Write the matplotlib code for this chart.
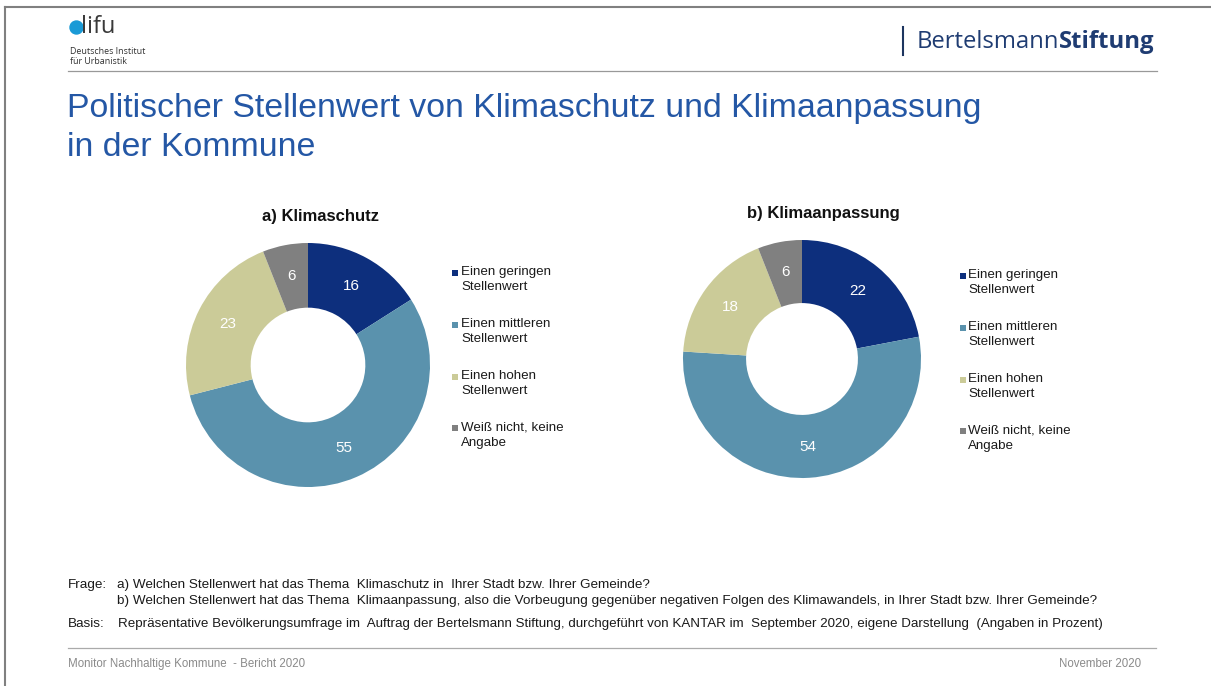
import matplotlib
matplotlib.use("Agg")
import matplotlib.pyplot as plt
from matplotlib.patches import Rectangle, Ellipse
from matplotlib.lines import Line2D

plt.rcParams['font.family'] = ['Liberation Sans', 'DejaVu Sans']

# ---- data ----
categories = ["Einen geringen\nStellenwert", "Einen mittleren\nStellenwert",
              "Einen hohen\nStellenwert", "Weiß nicht, keine\nAngabe"]
klimaschutz = [16, 55, 23, 6]
klimaanpassung = [22, 54, 18, 6]
colors = ["#0d2f7d", "#5a92ad", "#cbcb98", "#808080"]
chart_titles = ["a) Klimaschutz", "b) Klimaanpassung"]

W, H = 1211, 686
fig = plt.figure(figsize=(W / 100, H / 100), dpi=100)
fig.patch.set_facecolor("white")


def fx(x):
    return x / W


def fy(y):
    return 1 - y / H


# frame (left + top)
fig.add_artist(Line2D([fx(5), fx(5)], [fy(7), fy(686)], color="#808080", lw=1.5))
fig.add_artist(Line2D([fx(5), fx(1211)], [fy(7), fy(7)], color="#808080", lw=1.5))

# header: difu logo
fig.add_artist(Ellipse((fx(76.5), fy(27.5)), 13 / W, 13 / H, transform=fig.transFigure,
                       color="#1a9ad6", zorder=3))
fig.text(fx(81), fy(33), "lifu", fontsize=17, color="#3a3a3a", va="baseline",
         ha="left", family=["Open Sans", "DejaVu Sans"])
fig.text(fx(70), fy(52), "Deutsches Institut", fontsize=6.4, color="#333333", va="center",
         family=["Open Sans", "DejaVu Sans"])
fig.text(fx(70), fy(61), "für Urbanistik", fontsize=6.4, color="#333333", va="center",
         family=["Open Sans", "DejaVu Sans"])
fig.add_artist(Line2D([fx(68), fx(1157)], [fy(71), fy(71)], color="#999999", lw=0.9))

# header: Bertelsmann Stiftung
fig.add_artist(Line2D([fx(903), fx(903)], [fy(27), fy(55)], color="#1d355f", lw=1.5))
t1 = fig.text(fx(917), fy(42), "Bertelsmann", fontsize=17.2, color="#1f3c72",
              va="center", ha="left", family=["Open Sans", "DejaVu Sans"])
fig.canvas.draw()
bb = t1.get_window_extent()
fig.text(bb.x1 / W - 1 / W, fy(42), "Stiftung", fontsize=17.2, color="#1f3c72",
         va="center", ha="left", fontweight="bold", family=["Open Sans", "DejaVu Sans"])

# title
fig.text(fx(67), fy(108), "Politischer Stellenwert von Klimaschutz und Klimaanpassung",
         fontsize=24.4, color="#2457a5", va="center", ha="left")
fig.text(fx(67), fy(148), "in der Kommune", fontsize=24.4, color="#2457a5",
         va="center", ha="left")

# donuts
specs = [
    dict(vals=klimaschutz, cx=308, cy=365, r=122, tx=320, ty=216, lx=452, lx_t=461, ly=273),
    dict(vals=klimaanpassung, cx=802, cy=359, r=119, tx=823, ty=213, lx=960, lx_t=968, ly=276),
]
for spec, title in zip(specs, chart_titles):
    cx, cy, r = spec["cx"], spec["cy"], spec["r"]
    ax = fig.add_axes([fx(cx - r), fy(cy + r), 2 * r / W, 2 * r / H])
    wedges, texts = ax.pie(spec["vals"], colors=colors, startangle=90, counterclock=False,
                           radius=1.0, labels=[str(v) for v in spec["vals"]],
                           labeldistance=0.74,
                           wedgeprops=dict(width=0.53, linewidth=0),
                           textprops=dict(color="white", fontsize=11))
    for t in texts:
        t.set_ha("center")
        t.set_va("center")
    ax.set_xlim(-1, 1)
    ax.set_ylim(-1, 1)
    ax.set_aspect("auto")
    ax.axis("off")
    fig.text(fx(spec["tx"]), fy(spec["ty"]), title, fontsize=12, fontweight="bold",
             ha="center", va="center", color="#111111")
    # legend
    for i, (lab, col) in enumerate(zip(categories, colors)):
        y0 = spec["ly"] + i * 51.8
        fig.add_artist(Rectangle((fx(spec["lx"]), fy(y0 + 3)), 6 / W, 6 / H,
                                 transform=fig.transFigure, color=col, lw=0))
        fig.text(fx(spec["lx_t"]), fy(y0 - 7), lab, fontsize=9.6, color="#1a1a1a",
                 ha="left", va="top", linespacing=1.38)

# footnotes
fs = 9.7
fig.text(fx(68), fy(585), "Frage:", fontsize=fs, va="center", color="#1a1a1a")
fig.text(fx(117), fy(585), "a) Welchen Stellenwert hat das Thema  Klimaschutz in  Ihrer Stadt bzw. Ihrer Gemeinde?",
         fontsize=fs, va="center", color="#1a1a1a")
fig.text(fx(117), fy(601), "b) Welchen Stellenwert hat das Thema  Klimaanpassung, also die Vorbeugung gegenüber negativen Folgen des Klimawandels, in Ihrer Stadt bzw. Ihrer Gemeinde?",
         fontsize=fs, va="center", color="#1a1a1a")
fig.text(fx(68), fy(624), "Basis:", fontsize=fs, va="center", color="#1a1a1a")
fig.text(fx(118), fy(624), "Repräsentative Bevölkerungsumfrage im  Auftrag der Bertelsmann Stiftung, durchgeführt von KANTAR im  September 2020, eigene Darstellung  (Angaben in Prozent)",
         fontsize=9.6, va="center", color="#1a1a1a")
fig.add_artist(Line2D([fx(68), fx(1156)], [fy(648), fy(648)], color="#aaaaaa", lw=0.9))
fig.text(fx(68), fy(664), "Monitor Nachhaltige Kommune  - Bericht 2020", fontsize=8.3,
         va="center", color="#8a8a8a")
fig.text(fx(1141), fy(664), "November 2020", fontsize=8.3, va="center", ha="right",
         color="#8a8a8a")

fig.savefig("out.png", dpi=100, facecolor="white")
